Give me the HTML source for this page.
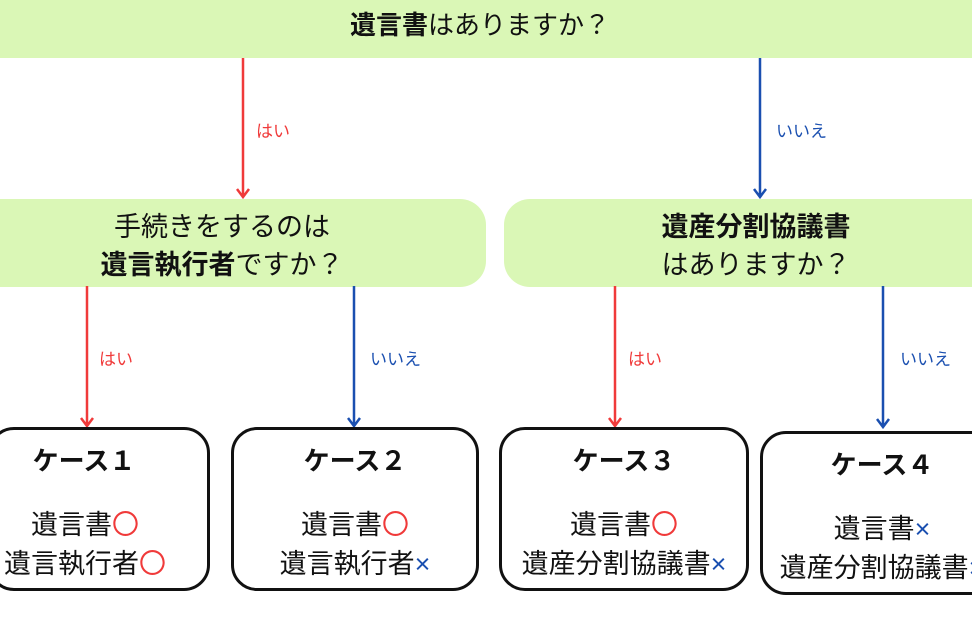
<!DOCTYPE html>
<html><head><meta charset="utf-8"><style>
body{margin:0;width:972px;height:630px;background:#fff;position:relative;overflow:hidden;font-family:"Liberation Sans","Noto Sans CJK JP",sans-serif;color:#111}
.g{position:absolute;background:#daf7b6}
.t{position:absolute;white-space:nowrap;text-align:center;transform:translateX(-50%)}
.box{position:absolute;border:3px solid #111;border-radius:26px;box-sizing:border-box;background:#fff}
.r{color:#f03a3a}.b{color:#1a4fb0}
.lbl{position:absolute;font-size:17px;line-height:20px}
svg{position:absolute;left:0;top:0}
</style></head><body>
<div class="g" style="left:0;top:0;width:972px;height:58px"></div>
<div class="t" style="left:480px;top:8px;font-size:26px;line-height:34px"><b>遺言書</b>はありますか？</div>
<div class="g" style="left:-30px;top:199px;width:516px;height:88px;border-radius:26px"></div>
<div class="t" style="left:222px;top:208px;font-size:27px;line-height:38px">手続きをするのは<br><b>遺言執行者</b>ですか？</div>
<div class="g" style="left:504px;top:199px;width:500px;height:88px;border-radius:26px"></div>
<div class="t" style="left:756px;top:208px;font-size:27px;line-height:38px"><b>遺産分割協議書</b><br>はありますか？</div>
<svg width="972" height="630">
<g stroke-width="2.5" fill="none">
<path d="M243 58V196M237 189l6 8 6-8" stroke="#f03a3a"/>
<path d="M760 58V196M754 189l6 8 6-8" stroke="#1a4fb0"/>
<path d="M87 286V425M81 418l6 8 6-8" stroke="#f03a3a"/>
<path d="M354 286V425M348 418l6 8 6-8" stroke="#1a4fb0"/>
<path d="M615 286V425M609 418l6 8 6-8" stroke="#f03a3a"/>
<path d="M883 286V426M877 419l6 8 6-8" stroke="#1a4fb0"/>
</g></svg>
<div class="lbl r" style="left:256px;top:122px">はい</div>
<div class="lbl b" style="left:776px;top:122px">いいえ</div>
<div class="lbl r" style="left:99px;top:350px">はい</div>
<div class="lbl b" style="left:370px;top:350px">いいえ</div>
<div class="lbl r" style="left:628px;top:350px">はい</div>
<div class="lbl b" style="left:900px;top:350px">いいえ</div>
<div class="box" style="left:-12px;top:427px;width:222px;height:164px"></div>
<div class="box" style="left:231px;top:427px;width:248px;height:164px"></div>
<div class="box" style="left:499px;top:427px;width:250px;height:164px"></div>
<div class="box" style="left:760px;top:431px;width:240px;height:164px"></div>
<div class="t" style="left:84px;top:445px;font-size:26px;line-height:32px;font-weight:bold">ケース１</div>
<div class="t" style="left:85px;top:506px;font-size:27px;line-height:39px">遺言書<span class="r">〇</span><br>遺言執行者<span class="r">〇</span></div>
<div class="t" style="left:355px;top:445px;font-size:26px;line-height:32px;font-weight:bold">ケース２</div>
<div class="t" style="left:355px;top:506px;font-size:27px;line-height:39px">遺言書<span class="r">〇</span><br>遺言執行者<span class="b">×</span></div>
<div class="t" style="left:624px;top:445px;font-size:26px;line-height:32px;font-weight:bold">ケース３</div>
<div class="t" style="left:624px;top:506px;font-size:27px;line-height:39px">遺言書<span class="r">〇</span><br>遺産分割協議書<span class="b">×</span></div>
<div class="t" style="left:882px;top:449px;font-size:26px;line-height:32px;font-weight:bold">ケース４</div>
<div class="t" style="left:882px;top:510px;font-size:27px;line-height:39px">遺言書<span class="b">×</span><br>遺産分割協議書<span class="b">×</span></div>
</body></html>
